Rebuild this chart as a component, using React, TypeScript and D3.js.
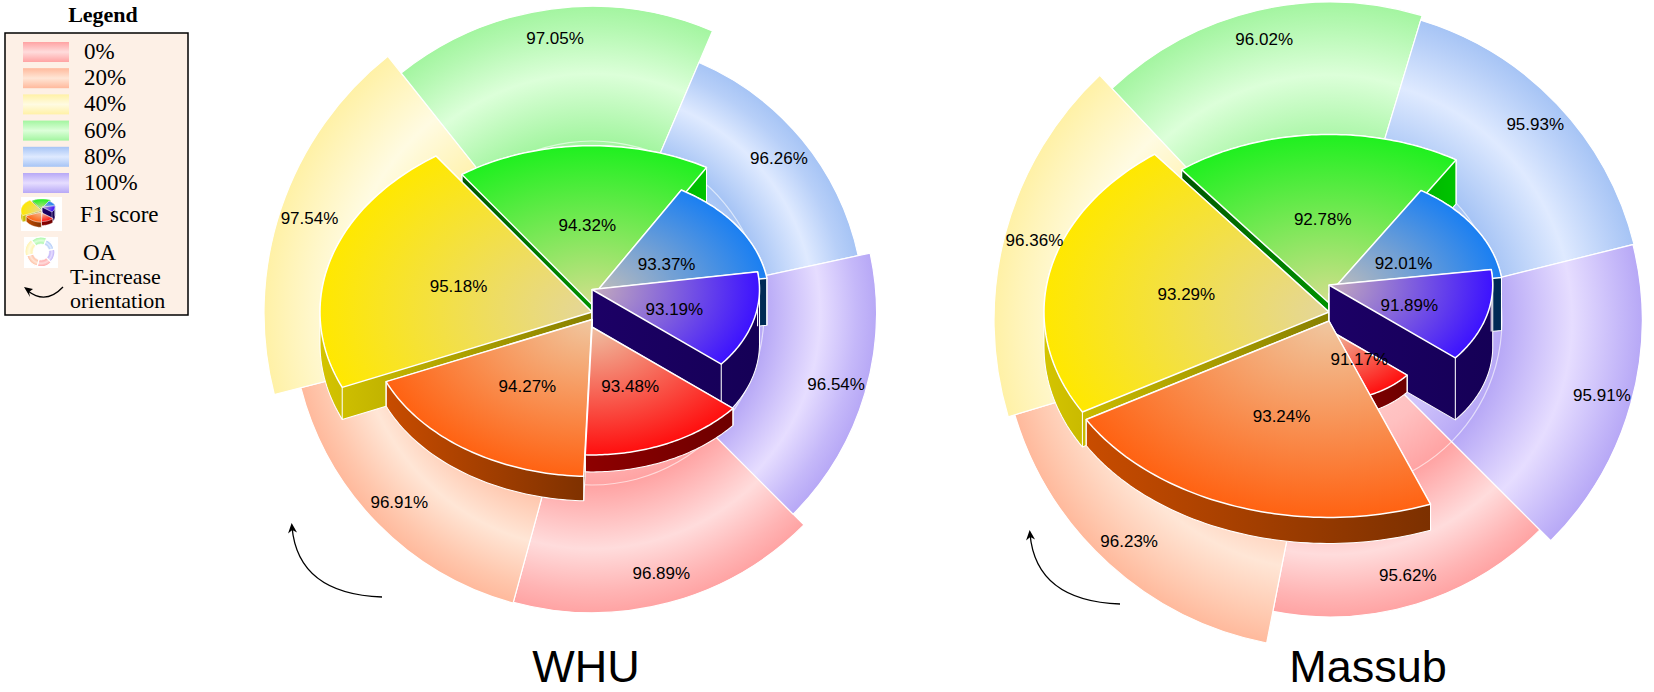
import React from 'react';
import * as d3 from 'd3';

// ---------------- data ----------------
const categories = ['0%', '20%', '40%', '60%', '80%', '100%'];
const datasets = ['WHU', 'Massub'];
const whuOA = [96.89, 96.91, 97.54, 97.05, 96.26, 96.54];
const whuF1 = [93.48, 94.27, 95.18, 94.32, 93.37, 93.19];
const massubOA = [95.62, 96.23, 96.36, 96.02, 95.93, 95.91];
const massubF1 = [91.17, 93.24, 93.29, 92.78, 92.01, 91.89];
const BASE = 90; // value at which a slice would vanish (angle and radius)

// ---------------- styles ----------------
const ringEdge = ['#ffa3a3', '#ffb99c', '#fff1a6', '#a3f5a0', '#a6c4f5', '#b7a8f6'];
const ringMid = ['#ffdcdc', '#ffe6d6', '#fffbe2', '#dcffd9', '#dfeaff', '#e6ddff'];
const pieVivid = ['#ff0e0e', '#ff6212', '#ffe800', '#1ff01f', '#1a7ff2', '#3c12ff'];
const pieCore = ['#efc0a2', '#f0c7a0', '#e4d69a', '#d2df8c', '#c8c0b8', '#c4acbc'];
const sideA = ['#8e0000', '#c84c00', '#d4c400', '#005800', '#003a6a', '#1c0066'];
const sideB = ['#6e0000', '#7c3000', '#888000', '#00c400', '#002a54', '#150056'];

const W = 1654;
const H = 692;
const TILT = 0.7;
const RING_START = 135;
const PIE_START = 129.5;
const R_IN = 172;
const BASE_DEPTH = 17;
const FONT = "'Liberation Sans', Arial, Helvetica, sans-serif";
const SERIF = "'Liberation Serif', 'Times New Roman', serif";

const layouts = [
  { rx: 592, ry: 313, oaR: 328, px: 592, py: 327, f1R: 272, step: 7.5, titleX: 586 },
  { rx: 1330, ry: 320, oaR: 336, px: 1329, py: 330, f1R: 285, step: 9, titleX: 1368 },
];
const chartData = [
  { name: datasets[0], oa: whuOA, f1: whuF1 },
  { name: datasets[1], oa: massubOA, f1: massubF1 },
];

const rad = (d: number) => (d * Math.PI) / 180;
const mix = (a: string, b: string, t: number) => d3.interpolateRgb(a, b)(t);

type Pt = [number, number];

function makePie(start: number) {
  return d3
    .pie<number>()
    .sort(null)
    .value((v) => v - BASE)
    .startAngle(rad(start))
    .endAngle(rad(start + 360));
}

function Pie3D({
  id, cx, cy, values, rScale, tilt, base, step, stroke = 1.5, start,
}: {
  id: string; cx: number; cy: number; values: number[]; rScale: (v: number) => number;
  tilt: number; base: number; step: number; stroke?: number; start: number;
}) {
  const arcs = makePie(start)(values);
  const slices = arcs.map((a, i) => {
    const r = rScale(values[i]);
    const lift = step * i;
    const depth = lift + base;
    const n = 60;
    const top: Pt[] = [[cx, cy - lift]];
    for (let k = 0; k <= n; k++) {
      const t = a.startAngle + ((a.endAngle - a.startAngle) * k) / n;
      top.push([cx + r * Math.sin(t), cy - lift - r * Math.cos(t) * tilt]);
    }
    const bottom = top.map(([x, y]) => [x, y + depth] as Pt);
    const hull = d3.polygonHull([...top, ...bottom]) as Pt[];
    const xs = hull.map((p) => p[0]);
    const mid = (a.startAngle + a.endAngle) / 2;
    return { i, r, lift, depth, top, hull, minX: d3.min(xs)!, maxX: d3.max(xs)!, order: -Math.cos(mid) };
  });
  const ordered = [...slices].sort((a, b) => a.order - b.order);
  const line = d3.line();
  return (
    <g>
      <defs>
        {slices.map((s) => (
          <React.Fragment key={s.i}>
            <linearGradient id={`${id}-side-${s.i}`} gradientUnits="userSpaceOnUse" x1={s.minX} x2={s.maxX} y1={0} y2={0}>
              <stop offset="0" stopColor={sideA[s.i]} />
              <stop offset="1" stopColor={sideB[s.i]} />
            </linearGradient>
            <radialGradient
              id={`${id}-top-${s.i}`}
              gradientUnits="userSpaceOnUse"
              cx={cx}
              cy={cy - s.lift}
              r={s.r}
              gradientTransform={`translate(${cx},${cy - s.lift}) scale(1,${tilt}) translate(${-cx},${-(cy - s.lift)})`}
            >
              <stop offset="0" stopColor={pieCore[s.i]} />
              <stop offset="0.45" stopColor={mix(pieCore[s.i], pieVivid[s.i], 0.45)} />
              <stop offset="1" stopColor={pieVivid[s.i]} />
            </radialGradient>
          </React.Fragment>
        ))}
      </defs>
      {ordered.map((s) => {
        const n = s.top.length;
        const corners = [s.top[0], s.top[1], s.top[n - 1]];
        return (
          <g key={s.i}>
            <path d={line(s.hull)! + 'Z'} fill={`url(#${id}-side-${s.i})`} stroke="#fff" strokeWidth={stroke * 0.7} strokeLinejoin="round" />
            {corners.map((c, k) => (
              <line key={k} x1={c[0]} y1={c[1]} x2={c[0]} y2={c[1] + s.depth} stroke="#fff" strokeWidth={stroke * 0.7} />
            ))}
            <path d={line(s.top)! + 'Z'} fill={`url(#${id}-top-${s.i})`} stroke="#fff" strokeWidth={stroke} strokeLinejoin="round" />
          </g>
        );
      })}
    </g>
  );
}

function Ring({ id, cx, cy, values, rScale, rIn, start }: { id: string; cx: number; cy: number; values: number[]; rScale: (v: number) => number; rIn: number; start: number }) {
  const arc = d3.arc<any>();
  const arcs = makePie(start)(values);
  return (
    <g transform={`translate(${cx},${cy})`}>
      <defs>
        {values.map((v, i) => {
          const r = rScale(v);
          const f = rIn / r;
          return (
            <radialGradient key={i} id={`${id}-ring-${i}`} gradientUnits="userSpaceOnUse" cx={0} cy={0} r={r}>
              <stop offset="0" stopColor={ringMid[i]} />
              <stop offset={f * 0.7} stopColor={mix(ringMid[i], ringEdge[i], 0.5)} />
              <stop offset={f} stopColor={ringEdge[i]} />
              <stop offset={f + (1 - f) * 0.5} stopColor={ringMid[i]} />
              <stop offset={0.93} stopColor={mix(ringMid[i], ringEdge[i], 0.7)} />
              <stop offset="1" stopColor={ringEdge[i]} />
            </radialGradient>
          );
        })}
      </defs>
      {arcs.map((a, i) => {
        const r = rScale(values[i]);
        return (
          <g key={i}>
            <path d={arc({ innerRadius: 0, outerRadius: r, startAngle: a.startAngle, endAngle: a.endAngle })!} fill={`url(#${id}-ring-${i})`} stroke="#fff" strokeWidth={1.2} />
            <path d={arc({ innerRadius: rIn - 0.6, outerRadius: rIn + 0.6, startAngle: a.startAngle, endAngle: a.endAngle })!} fill="#fff" opacity={0.6} />
          </g>
        );
      })}
    </g>
  );
}

function Chart({ idx }: { idx: number }) {
  const { name, oa, f1 } = chartData[idx];
  const L = layouts[idx];
  const oaScale = d3.scaleLinear().domain([BASE, d3.max(oa)!]).range([0, L.oaR]);
  const f1Scale = d3.scaleLinear().domain([BASE, d3.max(f1)!]).range([0, L.f1R]);
  const id = `c${idx}`;
  const ringArcs = makePie(RING_START)(oa);
  const pieArcs = makePie(PIE_START)(f1);

  // "T-increase orientation" arrow
  const tail: Pt = [L.rx - 210, L.ry + 284];
  const head: Pt = [L.rx - 300, L.ry + 214];
  const ctrl: Pt = [L.rx - 294, L.ry + 281];
  const dx0 = head[0] - ctrl[0];
  const dy0 = head[1] - ctrl[1];
  const len = Math.hypot(dx0, dy0);
  const dx = dx0 / len;
  const dy = dy0 / len;
  const px = -dy;
  const py = dx;
  const hx = head[0];
  const hy = head[1];
  const arrowHead = `M${hx + dx * 4},${hy + dy * 4} L${hx - dx * 6 + px * 4.5},${hy - dy * 6 + py * 4.5} L${hx - dx * 3},${hy - dy * 3} L${hx - dx * 6 - px * 4.5},${hy - dy * 6 - py * 4.5} Z`;

  return (
    <g>
      <Ring id={id} cx={L.rx} cy={L.ry} values={oa} rScale={oaScale} rIn={R_IN} start={RING_START} />
      <Pie3D id={id} cx={L.px} cy={L.py} values={f1} rScale={f1Scale} tilt={TILT} base={BASE_DEPTH} step={L.step} start={PIE_START} />
      {ringArcs.map((a, i) => {
        const m = (a.startAngle + a.endAngle) / 2;
        const rl = oaScale(oa[i]) - 30;
        return (
          <text key={`o${i}`} x={L.rx + rl * Math.sin(m)} y={L.ry - rl * Math.cos(m)} textAnchor="middle" dominantBaseline="central" fontFamily={FONT} fontSize={17} fill="#000">
            {oa[i].toFixed(2)}%
          </text>
        );
      })}
      {pieArcs.map((a, i) => {
        const m = (a.startAngle + a.endAngle) / 2;
        const r = f1Scale(f1[i]) * 0.51;
        const x = L.px + r * Math.sin(m);
        const y = L.py - L.step * i * 0.9 - r * Math.cos(m) * TILT;
        return (
          <text key={`f${i}`} x={x} y={y} textAnchor="middle" dominantBaseline="central" fontFamily={FONT} fontSize={17} fill="#000">
            {f1[i].toFixed(2)}%
          </text>
        );
      })}
      <path d={`M${tail[0]},${tail[1]} Q${ctrl[0]},${ctrl[1]} ${head[0]},${head[1]}`} fill="none" stroke="#000" strokeWidth={1.3} />
      <path d={arrowHead} fill="#000" />
      <text x={L.titleX} y={682} textAnchor="middle" fontFamily={FONT} fontSize={45} fill="#000">
        {name}
      </text>
    </g>
  );
}

function Legend() {
  const x0 = 23;
  const y0 = 42;
  const pitch = 26.2;
  const iconPie = d3.scaleLinear().domain([BASE, d3.max(whuF1)!]).range([0, 21]);
  const iconRing = d3.scaleLinear().domain([BASE, d3.max(whuOA)!]).range([0, 16]);
  return (
    <g>
      <text x={103} y={22} textAnchor="middle" fontFamily={SERIF} fontWeight="bold" fontSize={22}>
        Legend
      </text>
      <rect x={5} y={33} width={183} height={282} fill="#fdf0e6" stroke="#000" strokeWidth={1.5} />
      <defs>
        {categories.map((c, i) => (
          <linearGradient key={i} id={`lg-${i}`} x1="0" x2="0" y1="0" y2="1">
            <stop offset="0" stopColor={ringEdge[i]} />
            <stop offset="0.5" stopColor={ringMid[i]} />
            <stop offset="1" stopColor={ringEdge[i]} />
          </linearGradient>
        ))}
      </defs>
      {categories.map((c, i) => (
        <g key={c}>
          <rect x={x0} y={y0 + pitch * i} width={46} height={20} fill={`url(#lg-${i})`} />
          <text x={84} y={y0 + pitch * i + 17} fontFamily={SERIF} fontSize={23} fill="#000">
            {c}
          </text>
        </g>
      ))}
      <rect x={21} y={197} width={41} height={34} fill="#fff" />
      <Pie3D id="lgpie" cx={42} cy={213} values={whuF1} rScale={iconPie} tilt={0.6} base={4} step={1.2} stroke={0.6} start={PIE_START} />
      <text x={80} y={222} fontFamily={SERIF} fontSize={23}>F1 score</text>
      <rect x={24} y={237} width={34} height={31} fill="#fff" />
      <Ring id="lgring" cx={41} cy={252} values={whuOA} rScale={iconRing} rIn={8} start={RING_START} />
      <circle cx={41} cy={252} r={8} fill="#fff" />
      <text x={83} y={260} fontFamily={SERIF} fontSize={23}>OA</text>
      <path d="M63,287 Q46,305 28,291" fill="none" stroke="#000" strokeWidth={1.3} />
      <path d="M24,287 L33,289 L29,292 L30,297 Z" fill="#000" />
      <text x={70} y={284} fontFamily={SERIF} fontSize={22}>T-increase</text>
      <text x={70} y={308} fontFamily={SERIF} fontSize={22}>orientation</text>
    </g>
  );
}

export default function App() {
  return (
    <svg width={W} height={H} viewBox={`0 0 ${W} ${H}`} style={{ position: 'absolute', left: 0, top: 0, background: '#fff' }}>
      <rect width={W} height={H} fill="#fff" />
      <Chart idx={0} />
      <Chart idx={1} />
      <Legend />
    </svg>
  );
}
